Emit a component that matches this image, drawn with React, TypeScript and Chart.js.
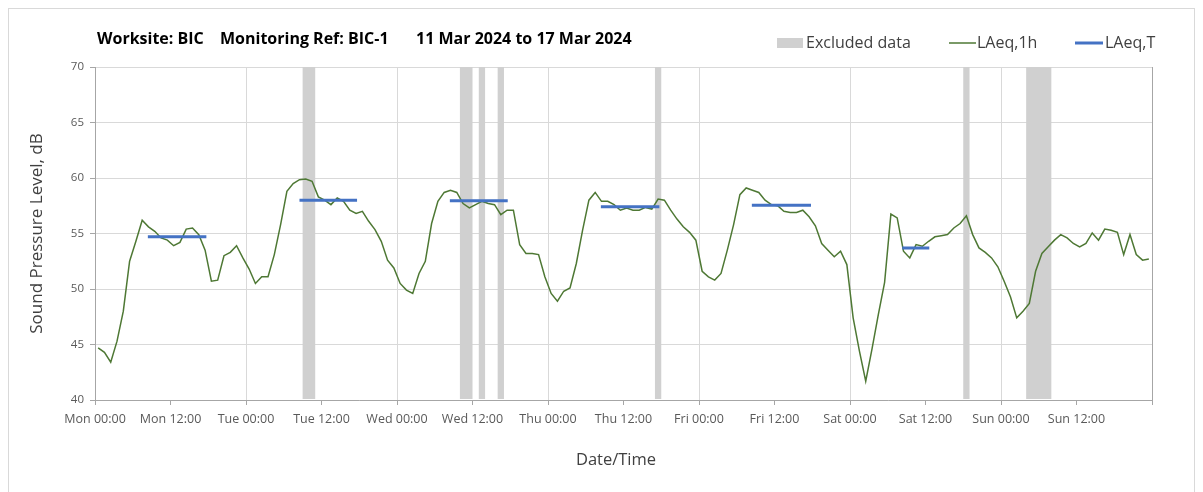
import React, { useEffect, useRef } from 'react';
import { Chart, registerables } from 'chart.js';

Chart.register(...registerables);

// Hourly LAeq,1h values (dB), one per hour starting Mon 00:00
const laeq1h = [
  44.7, 44.3, 43.4, 45.3, 48.0, 52.5, 54.3, 56.2, 55.6, 55.2, 54.6, 54.4,
  53.9, 54.2, 55.4, 55.5, 54.9, 53.5, 50.7, 50.8, 53.0, 53.3, 53.9, 52.8,
  51.8, 50.5, 51.1, 51.1, 53.1, 55.8, 58.8, 59.5, 59.85, 59.9, 59.7, 58.3,
  58.0, 57.6, 58.2, 57.9, 57.1, 56.8, 57.0, 56.1, 55.35, 54.3, 52.6, 51.9,
  50.5, 49.9, 49.6, 51.4, 52.5, 55.9, 57.9, 58.7, 58.9, 58.7, 57.7, 57.3,
  57.6, 57.9, 57.7, 57.6, 56.7, 57.1, 57.1, 54.0, 53.2, 53.2, 53.1, 51.1,
  49.6, 48.9, 49.8, 50.1, 52.3, 55.3, 58.0, 58.7, 57.9, 57.9, 57.6, 57.1,
  57.3, 57.1, 57.1, 57.35, 57.2, 58.1, 58.0, 57.1, 56.3, 55.6, 55.1, 54.4,
  51.6, 51.1, 50.8, 51.4, 53.5, 55.8, 58.5, 59.1, 58.9, 58.7, 58.0, 57.6,
  57.5, 57.0, 56.9, 56.9, 57.1, 56.5, 55.7, 54.1, 53.5, 52.9, 53.4, 52.2,
  47.4, 44.4, 41.7, 44.6, 47.7, 50.6, 56.75, 56.4, 53.4, 52.8, 54.0, 53.85,
  54.3, 54.7, 54.8, 54.9, 55.5, 55.9, 56.6, 54.9, 53.7, 53.3, 52.8, 52.0,
  50.7, 49.3, 47.4, 48.0, 48.7, 51.6, 53.2, 53.8, 54.4, 54.9, 54.6, 54.1,
  53.8, 54.1, 55.05, 54.4, 55.4, 55.3, 55.1, 53.1, 54.9, 53.1, 52.6, 52.7,
];

// LAeq,T daytime periods (hours from Mon 00:00) and levels (dB)
const laeqTStart = [8.4, 32.5, 56.4, 80.4, 104.4, 128.3];
const laeqTEnd = [17.7, 41.65, 65.6, 89.7, 113.8, 132.6];
const laeqTValue = [54.7, 58.0, 57.95, 57.4, 57.55, 53.7];

// Excluded data periods (hours from Mon 00:00)
const excludedStart = [33, 58, 61, 64, 89, 138, 148];
const excludedEnd = [35, 60, 62, 65, 90, 139, 152];

const xTickLabels = [
  'Mon 00:00', 'Mon 12:00', 'Tue 00:00', 'Tue 12:00', 'Wed 00:00', 'Wed 12:00',
  'Thu 00:00', 'Thu 12:00', 'Fri 00:00', 'Fri 12:00', 'Sat 00:00', 'Sat 12:00',
  'Sun 00:00', 'Sun 12:00', '',
];

const titleParts = ['Worksite: BIC', 'Monitoring Ref: BIC-1', '11 Mar 2024 to 17 Mar 2024'];
const legendLabels = ['Excluded data', 'LAeq,1h', 'LAeq,T'];
const xAxisTitle = 'Date/Time';
const yAxisTitle = 'Sound Pressure Level, dB';

const GREEN = '#4e7834';
const BLUE = '#4472c4';
const EXCLUDED = '#d0d0d0';
const GRID = '#d9d9d9';
const AXIS = '#a6a6a6';
const FONT = '"Open Sans"';

const W = 1187;
const H = 484;

const decorPlugin = {
  id: 'decor',
  beforeDatasetsDraw(chart: any) {
    const { ctx, chartArea, scales } = chart;
    const x = scales.x;
    ctx.save();
    ctx.fillStyle = EXCLUDED;
    excludedStart.forEach((s, k) => {
      const x0 = x.getPixelForValue(s);
      const x1 = x.getPixelForValue(excludedEnd[k]);
      ctx.fillRect(x0, chartArea.top, x1 - x0, chartArea.bottom - chartArea.top - 1);
    });
    ctx.restore();
  },
  afterDraw(chart: any) {
    const { ctx } = chart;
    ctx.save();
    // outer frame
    ctx.strokeStyle = GRID;
    ctx.lineWidth = 1;
    ctx.strokeRect(0.5, 0.5, W - 1, H + 10);
    // title
    ctx.fillStyle = '#000000';
    ctx.font = `bold 16px ${FONT}`;
    ctx.textBaseline = 'middle';
    ctx.textAlign = 'left';
    const tx = [89, 212, 408];
    titleParts.forEach((t, i) => ctx.fillText(t, tx[i], 31));
    // legend
    ctx.font = `16px ${FONT}`;
    const ly = 35;
    ctx.fillStyle = EXCLUDED;
    ctx.fillRect(769, ly - 5, 26, 10);
    ctx.fillStyle = '#404040';
    ctx.fillText(legendLabels[0], 798, ly);
    ctx.strokeStyle = GREEN;
    ctx.lineWidth = 1.5;
    ctx.beginPath();
    ctx.moveTo(941, ly);
    ctx.lineTo(968, ly);
    ctx.stroke();
    ctx.fillText(legendLabels[1], 969, ly);
    ctx.strokeStyle = BLUE;
    ctx.lineWidth = 3;
    ctx.beginPath();
    ctx.moveTo(1067, ly);
    ctx.lineTo(1095, ly);
    ctx.stroke();
    ctx.fillText(legendLabels[2], 1097, ly);
    // x axis title
    ctx.font = `16.5px ${FONT}`;
    ctx.textAlign = 'center';
    ctx.fillText(xAxisTitle, 608, 452);
    ctx.restore();
  },
};

export default function App() {
  const ref = useRef<HTMLCanvasElement>(null);

  useEffect(() => {
    const canvas = ref.current;
    if (!canvas) return;

    const lineData = laeq1h.map((v, i) => ({ x: i + 0.5, y: v }));
    const tData: any[] = [];
    laeqTStart.forEach((s, k) => {
      tData.push({ x: s, y: laeqTValue[k] });
      tData.push({ x: laeqTEnd[k], y: laeqTValue[k] });
      tData.push({ x: laeqTEnd[k] + 0.01, y: null });
    });

    const chart = new Chart(canvas, {
      type: 'line',
      data: {
        datasets: [
          {
            label: 'LAeq,T',
            data: tData,
            borderColor: BLUE,
            borderWidth: 3,
            pointRadius: 0,
            spanGaps: false,
            order: 0,
          },
          {
            label: 'LAeq,1h',
            data: lineData,
            borderColor: GREEN,
            borderWidth: 1.5,
            pointRadius: 0,
            tension: 0,
            order: 1,
          },
        ],
      },
      options: {
        animation: false,
        responsive: false,
        layout: { padding: { left: 0, top: 59, right: 43, bottom: 0 } },
        plugins: {
          legend: { display: false },
          title: { display: false },
          tooltip: { enabled: false },
        },
        scales: {
          x: {
            type: 'linear',
            min: 0,
            max: 168,
            afterFit: (s: any) => { s.height = 92; },
            ticks: {
              stepSize: 12,
              autoSkip: false,
              maxRotation: 0,
              minRotation: 0,
              padding: 7,
              color: '#595959',
              font: { family: FONT, size: 12.5 },
              callback: (v: any) => xTickLabels[Math.round(Number(v) / 12)] ?? '',
            },
            grid: {
              color: (c: any) => {
                const v = c.tick ? c.tick.value : 0;
                if (v === 168) return AXIS;
                return v % 24 === 0 && v !== 0 ? GRID : 'rgba(0,0,0,0)';
              },
              tickColor: AXIS,
              tickLength: 5,
              lineWidth: 1,
            },
            border: { color: AXIS, width: 1 },
          },
          y: {
            min: 40,
            max: 70,
            afterFit: (s: any) => { s.width = 87; },
            ticks: {
              stepSize: 5,
              padding: 6,
              color: '#595959',
              font: { family: FONT, size: 11.5 },
            },
            grid: {
              color: GRID,
              tickColor: AXIS,
              tickLength: 5,
              lineWidth: 1,
            },
            border: { color: AXIS, width: 1 },
            title: {
              display: true,
              text: yAxisTitle,
              color: '#404040',
              font: { family: FONT, size: 17 },
              padding: { top: 19, bottom: 0 },
            },
          },
        },
      },
      plugins: [decorPlugin],
    });

    return () => chart.destroy();
  }, []);

  return (
    <div style={{ width: W, height: H }}>
      <canvas ref={ref} width={W} height={H} style={{ display: 'block', width: W, height: H }} />
    </div>
  );
}
